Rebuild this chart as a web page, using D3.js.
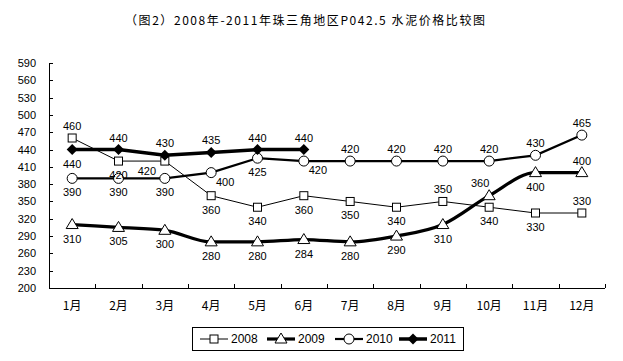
<!DOCTYPE html>
<html>
<head>
<meta charset="utf-8">
<script src="https://cdn.jsdelivr.net/npm/d3@7"></script>
<style>
  body { margin: 0; background: #fff; }
  text { font-family: "Liberation Sans", Arial, sans-serif; fill: #000; }
</style>
</head>
<body>
<script>
var months = ["1月","2月","3月","4月","5月","6月","7月","8月","9月","10月","11月","12月"];
var yTicks = [200,230,260,290,320,350,380,410,440,470,500,530,560,590];

var y2008 = [460,420,420,360,340,360,350,340,350,340,330,330];
var y2009 = [310,305,300,280,280,284,280,290,310,360,400,400];
var y2010 = [390,390,390,400,425,420,420,420,420,420,430,465];
var y2011 = [440,440,430,435,440,440];

// where each value label sits relative to its marker: t = above, b = below, l = below left, u = above left, r = below right
var lab2008 = ["t","b","l","b","b","b","b","b","t","b","b","t"];
var lab2009 = ["b","b","b","b","b","b","b","b","b","u","b","t"];
var lab2010 = ["b","b","b","r","b","r","t","t","t","t","t","t"];
var lab2011 = ["b","t","t","t","t","t"];

var width = 623, height = 361;
var margin = {top: 63, right: 18, bottom: 73, left: 49};

var svg = d3.select("body").append("svg")
    .attr("width", width)
    .attr("height", height);

svg.append("text")
    .attr("x", 125).attr("y", 25)
    .attr("textLength", 360)
    .attr("lengthAdjust", "spacing")
    .style("font-family", "'Noto Sans CJK SC', sans-serif")
    .style("font-size", "12px")
    .text("（图2）2008年-2011年珠三角地区P042.5 水泥价格比较图");

var x = d3.scaleBand()
    .domain(months)
    .range([margin.left, width - margin.right]);

var y = d3.scaleLinear()
    .domain([200, 590])
    .range([height - margin.bottom, margin.top]);

var g = svg.append("g");

// axes
g.append("line")
    .attr("x1", margin.left + 0.5).attr("x2", margin.left + 0.5)
    .attr("y1", y(590)).attr("y2", y(200))
    .attr("stroke", "#000");
g.append("line")
    .attr("x1", margin.left).attr("x2", width - margin.right)
    .attr("y1", y(200) + 0.5).attr("y2", y(200) + 0.5)
    .attr("stroke", "#000");

g.selectAll(".ytick").data(yTicks).enter().append("line")
    .attr("x1", margin.left).attr("x2", margin.left + 4)
    .attr("y1", function(d) { return Math.round(y(d)) + 0.5; })
    .attr("y2", function(d) { return Math.round(y(d)) + 0.5; })
    .attr("stroke", "#000");

g.selectAll(".ylab").data(yTicks).enter().append("text")
    .attr("x", 36)
    .attr("y", function(d) { return y(d) + 4; })
    .attr("text-anchor", "end")
    .style("font-size", "11px")
    .text(function(d) { return d; });

var xEdges = months.map(function(m) { return x(m) + x.bandwidth(); });
g.selectAll(".xtick").data(xEdges).enter().append("line")
    .attr("x1", function(d) { return Math.round(d) + 0.5; })
    .attr("x2", function(d) { return Math.round(d) + 0.5; })
    .attr("y1", y(200)).attr("y2", y(200) - 4)
    .attr("stroke", "#000");

g.selectAll(".xlab").data(months).enter().append("text")
    .attr("x", function(d) { return x(d) + x.bandwidth() / 2; })
    .attr("y", y(200) + 22)
    .attr("text-anchor", "middle")
    .style("font-family", "'Noto Sans CJK SC', sans-serif")
    .style("font-size", "12px")
    .text(function(d) { return d; });

function cx(i) { return x(months[i]) + x.bandwidth() / 2; }

var series = [
  {name: "2008", values: y2008, labels: lab2008, width: 1, marker: "square", curve: d3.curveLinear},
  {name: "2009", values: y2009, labels: lab2009, width: 3.2, marker: "triangle", curve: d3.curveMonotoneX},
  {name: "2010", values: y2010, labels: lab2010, width: 2.2, marker: "circle", curve: d3.curveLinear},
  {name: "2011", values: y2011, labels: lab2011, width: 3.5, marker: "diamond", curve: d3.curveLinear}
];

function drawMarker(sel, type, px, py) {
  if (type === "square") {
    sel.append("rect").attr("x", px - 4).attr("y", py - 4).attr("width", 8).attr("height", 8)
      .attr("fill", "#fff").attr("stroke", "#000").attr("stroke-width", 1);
  } else if (type === "triangle") {
    sel.append("path").attr("d", "M" + px + "," + (py - 6) + "L" + (px + 6) + "," + (py + 4) + "L" + (px - 6) + "," + (py + 4) + "Z")
      .attr("fill", "#fff").attr("stroke", "#000").attr("stroke-width", 1);
  } else if (type === "circle") {
    sel.append("circle").attr("cx", px).attr("cy", py).attr("r", 5)
      .attr("fill", "#fff").attr("stroke", "#000").attr("stroke-width", 1);
  } else {
    sel.append("path").attr("d", "M" + px + "," + (py - 5.5) + "L" + (px + 5.5) + "," + py + "L" + px + "," + (py + 5.5) + "L" + (px - 5.5) + "," + py + "Z")
      .attr("fill", "#000");
  }
}

var line = d3.line();

series.forEach(function(s) {
  var pts = s.values.map(function(v, i) { return [cx(i), y(v)]; });
  g.append("path")
    .attr("d", line.curve(s.curve)(pts))
    .attr("fill", "none")
    .attr("stroke", "#000")
    .attr("stroke-width", s.width);
});

series.forEach(function(s) {
  var mg = g.append("g");
  s.values.forEach(function(v, i) {
    drawMarker(mg, s.marker, cx(i), y(v));
  });
});

series.forEach(function(s) {
  s.values.forEach(function(v, i) {
    var px = cx(i), py = y(v), dx = 0, dy = 0;
    var p = s.labels[i];
    if (p === "t") { dy = -8; }
    else if (p === "b") { dy = 18; }
    else if (p === "l") { dx = -18; dy = 14; }
    else if (p === "u") { dx = -9; dy = -9; }
    else if (p === "r") { dx = 14; dy = 13; }
    g.append("text")
      .attr("x", px + dx).attr("y", py + dy)
      .attr("text-anchor", "middle")
      .style("font-size", "11px")
      .text(v);
  });
});

// legend
var lg = svg.append("g").attr("transform", "translate(192,327)");
lg.append("rect").attr("x", 0.5).attr("y", 0.5).attr("width", 271).attr("height", 23)
  .attr("fill", "#fff").attr("stroke", "#000");
var lx = [8, 75, 143, 207];
series.forEach(function(s, i) {
  var ly = 12;
  lg.append("line").attr("x1", lx[i]).attr("x2", lx[i] + 28).attr("y1", ly).attr("y2", ly)
    .attr("stroke", "#000").attr("stroke-width", s.width);
  drawMarker(lg, s.marker, lx[i] + 14, ly);
  lg.append("text").attr("x", lx[i] + 31).attr("y", ly + 4)
    .style("font-size", "12px").text(s.name);
});
</script>
</body>
</html>
